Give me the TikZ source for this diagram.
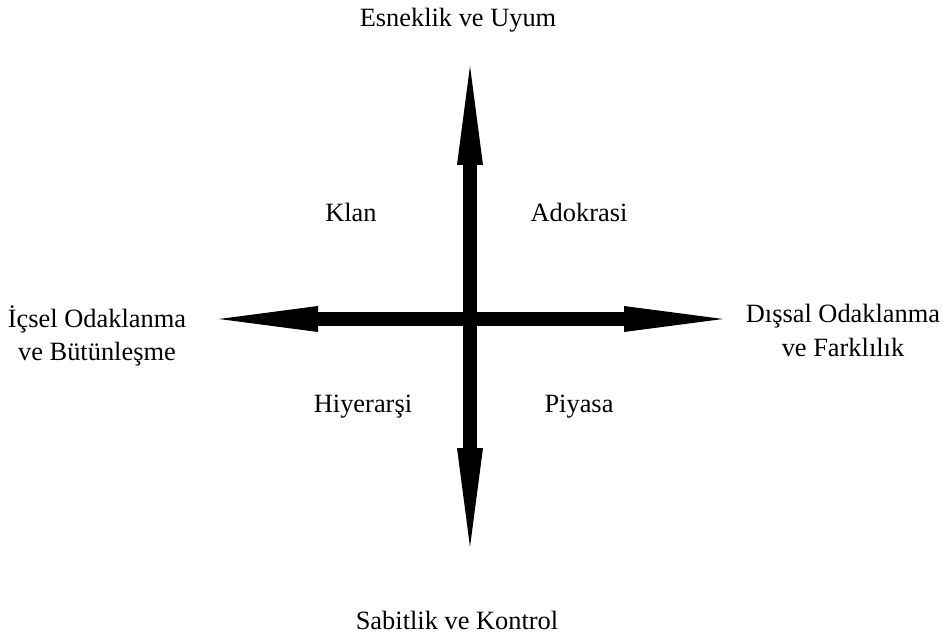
\documentclass[tikz,border=0pt]{standalone}
\usepackage{fontspec}
\setmainfont{Liberation Serif}
\usetikzlibrary{arrows.meta}
\begin{document}
\begin{tikzpicture}[x=0.5pt,y=-0.5pt,
    axe/.style={line width=6.75pt,
      {Triangle[length=49.5pt,width=13pt,line width=0pt]}-{Triangle[length=49.5pt,width=13pt,line width=0pt]}},
    etiquette/.style={font=\fontsize{13.2pt}{17pt}\selectfont, inner sep=0pt, align=center, anchor=base}]
  % Cadre
  \useasboundingbox (0,0) rectangle (943,636);

  % Extremites des axes
  \coordinate (haut) at (470,66);
  \coordinate (bas) at (470,547);
  \coordinate (gauche) at (219,319);
  \coordinate (droite) at (723,319);

  % Axes
  \draw[axe] (haut) -- (bas);
  \draw[axe] (gauche) -- (droite);

  % Poles
  \node[etiquette] (esneklik) at (458,27) {Esneklik ve Uyum};
  \node[etiquette] (sabitlik) at (457,629) {Sabitlik ve Kontrol};
  \node[etiquette] (icsel) at (97,361) {İçsel Odaklanma\\ve Bütünleşme};
  \node[etiquette] (dissal) at (843,357) {Dışsal Odaklanma\\ve Farklılık};

  % Kulturler
  \node[etiquette] (klan) at (351,222) {Klan};
  \node[etiquette] (adokrasi) at (579,222) {Adokrasi};
  \node[etiquette] (hiyerarsi) at (363,413) {Hiyerarşi};
  \node[etiquette] (piyasa) at (579,413) {Piyasa};
\end{tikzpicture}
\end{document}
